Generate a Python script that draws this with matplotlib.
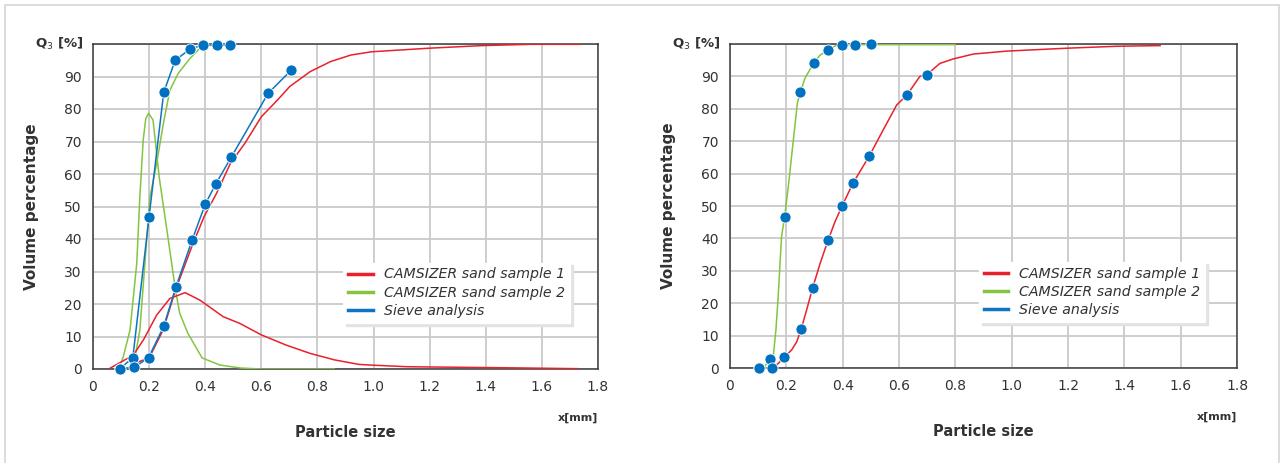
import numpy as np
import matplotlib
matplotlib.use("Agg")
import matplotlib.pyplot as plt
from matplotlib.lines import Line2D
from matplotlib.patches import Rectangle

# ---- data ----
# left panel: before fitting
L_cum1_x = [0.149, 0.2, 0.25, 0.294, 0.352, 0.396, 0.44, 0.49, 0.541, 0.6, 0.658, 0.701, 0.774, 0.847, 0.919, 0.992, 1.196, 1.385, 1.56, 1.735]
L_cum1_y = [1.8, 3.4, 12, 24.3, 37.6, 46.9, 54, 63.3, 69.4, 77.6, 82.8, 86.9, 91.5, 94.6, 96.6, 97.6, 98.7, 99.5, 99.9, 99.9]
L_den1_x = [0.06, 0.144, 0.18, 0.227, 0.274, 0.328, 0.381, 0.464, 0.524, 0.6, 0.687, 0.774, 0.861, 0.949, 0.992, 1.12, 1.45, 1.73]
L_den1_y = [0.2, 4.3, 9, 16.6, 21.7, 23.5, 21.2, 16.1, 14, 10.5, 7.4, 4.8, 2.8, 1.4, 1.2, 0.7, 0.4, 0.1]
L_cum2_x = [0.1, 0.144, 0.167, 0.185, 0.203, 0.227, 0.251, 0.274, 0.304, 0.346, 0.381, 0.40, 0.5]
L_cum2_y = [0, 0.7, 12, 32.5, 53, 63.3, 75.6, 85.8, 91, 95.6, 98.7, 99.7, 99.8]
L_den2_x = [0.095, 0.108, 0.132, 0.156, 0.167, 0.179, 0.188, 0.198, 0.214, 0.236, 0.265, 0.294, 0.309, 0.338, 0.389, 0.453, 0.527, 0.6, 0.86]
L_den2_y = [0.5, 3.8, 12, 32.5, 53, 70.5, 77, 78.7, 76.6, 59, 41.8, 24.3, 17.2, 11, 3.4, 1.2, 0.3, 0, 0]
L_sieve1_x = [0.095, 0.147, 0.198, 0.252, 0.295, 0.353, 0.40, 0.438, 0.493, 0.624, 0.706]
L_sieve1_y = [0, 0.5, 3.5, 13.1, 25.1, 39.6, 50.7, 57, 65.2, 84.8, 91.9]
L_sieve2_x = [0.095, 0.142, 0.2, 0.252, 0.293, 0.347, 0.393, 0.443, 0.49]
L_sieve2_y = [0, 3.5, 46.9, 85.1, 95, 98.5, 99.7, 99.7, 99.7]

# right panel: after fitting
R_cum1_x = [0.15, 0.171, 0.193, 0.219, 0.237, 0.253, 0.272, 0.293, 0.32, 0.348, 0.373, 0.398, 0.437, 0.495, 0.544, 0.592, 0.628, 0.674, 0.70, 0.745, 0.793, 0.864, 0.982, 1.195, 1.373, 1.527]
R_cum1_y = [0, 1.4, 3.3, 5.6, 8.1, 12.1, 17.9, 24.6, 32.3, 39.4, 45.2, 50, 57.1, 65.5, 73.5, 81.2, 84.2, 90, 90.6, 94, 95.4, 96.9, 97.8, 98.7, 99.3, 99.5]
R_cum2_x = [0.118, 0.154, 0.163, 0.171, 0.183, 0.194, 0.207, 0.225, 0.239, 0.25, 0.266, 0.297, 0.32, 0.348, 0.373, 0.40, 0.8]
R_cum2_y = [0, 4, 11.7, 22, 40.5, 46.7, 56, 70.4, 81.7, 85.2, 89.4, 94.1, 96.6, 98, 99.4, 99.8, 99.8]
R_sieve1_x = [0.102, 0.150, 0.193, 0.253, 0.293, 0.348, 0.398, 0.437, 0.495, 0.628, 0.701]
R_sieve1_y = [0, 0, 3.3, 12.1, 24.6, 39.4, 50, 57.1, 65.5, 84.2, 90.5]
R_sieve2_x = [0.102, 0.142, 0.194, 0.25, 0.297, 0.348, 0.398, 0.444, 0.5]
R_sieve2_y = [0, 2.8, 46.7, 85.2, 94.1, 98, 99.7, 99.7, 99.9]

labels = ["CAMSIZER sand sample 1", "CAMSIZER sand sample 2", "Sieve analysis"]
xticks = [0, 0.2, 0.4, 0.6, 0.8, 1.0, 1.2, 1.4, 1.6, 1.8]
xticklabels = ["0", "0.2", "0.4", "0.6", "0.8", "1.0", "1.2", "1.4", "1.6", "1.8"]
yticks = [0, 10, 20, 30, 40, 50, 60, 70, 80, 90, 100]
yticklabels = ["0", "10", "20", "30", "40", "50", "60", "70", "80", "90", ""]

RED = "#e8212b"
GREEN = "#84c441"
BLUE = "#0f75c2"
DOT = "#0071c1"
TXT = "#333333"

plt.rcParams["font.family"] = ["DejaVu Sans"]

fig = plt.figure(figsize=(12.84, 4.63), dpi=100)
fig.patches.append(Rectangle((5/1284, -0.05), 1274/1284, 1.05 - 5/463, transform=fig.transFigure,
                             fill=False, edgecolor="#d9d9d9", linewidth=1.3))

ax1 = fig.add_axes([93/1284, 1 - 369/463, 505/1284, 325/463])
ax2 = fig.add_axes([730/1284, 1 - 368/463, 507/1284, 324/463])


def style_axes(ax, legend_left):
    ax.set_xlim(0, 1.8)
    ax.set_ylim(0, 100)
    ax.set_xticks(xticks)
    ax.set_xticklabels(xticklabels)
    ax.set_yticks(yticks)
    ax.set_yticklabels(yticklabels)
    ax.tick_params(length=0, labelsize=10, colors=TXT, pad=8)
    ax.grid(True, color="#c9c9c9", linewidth=1.3)
    ax.set_axisbelow(True)
    for sp in ax.spines.values():
        sp.set_color("#3a3a3a")
        sp.set_linewidth(1.1)
    ax.set_xlabel("Particle size", fontsize=10.5, fontweight="bold", color=TXT, labelpad=22)
    ax.set_ylabel("Volume percentage", fontsize=11, fontweight="bold", color=TXT, labelpad=18)
    ax.text(-0.018, 1.0, "Q$_3$ [%]", transform=ax.transAxes, ha="right", va="center",
            fontsize=9.5, fontweight="bold", color=TXT)
    ax.text(1.0, -0.15, "x[mm]", transform=ax.transAxes, ha="right", va="center",
            fontsize=8, fontweight="bold", color=TXT)
    handles = [Line2D([], [], color=c, linewidth=2.5) for c in (RED, GREEN, BLUE)]
    leg = ax.legend(handles, labels, loc="lower left", bbox_to_anchor=(legend_left, 0.12),
                    frameon=True, fancybox=False, shadow={"color": "#e2e2e2", "alpha": 1},
                    handlelength=1.7, handletextpad=0.8, borderpad=0.35, labelspacing=0.3,
                    prop={"style": "italic", "size": 10.2})
    leg.get_frame().set_edgecolor("white")
    leg.get_frame().set_facecolor("white")
    for t in leg.get_texts():
        t.set_color(TXT)


# left panel
ax1.plot(L_den2_x, L_den2_y, color=GREEN, linewidth=1.1, zorder=3)
ax1.plot(L_cum2_x, L_cum2_y, color=GREEN, linewidth=1.1, zorder=3)
ax1.plot(L_den1_x, L_den1_y, color=RED, linewidth=1.1, zorder=3)
ax1.plot(L_cum1_x, L_cum1_y, color=RED, linewidth=1.1, zorder=3)
ax1.plot(L_sieve2_x, L_sieve2_y, color=BLUE, linewidth=1.1, marker="o", markersize=8,
         markerfacecolor=DOT, markeredgecolor="white", markeredgewidth=0.6, zorder=4, clip_on=False)
ax1.plot(L_sieve1_x, L_sieve1_y, color=BLUE, linewidth=1.1, marker="o", markersize=8,
         markerfacecolor=DOT, markeredgecolor="white", markeredgewidth=0.6, zorder=4, clip_on=False)
style_axes(ax1, 0.482)

# right panel
ax2.plot(R_cum2_x, R_cum2_y, color=GREEN, linewidth=1.1, zorder=3)
ax2.plot(R_cum1_x, R_cum1_y, color=RED, linewidth=1.1, zorder=3)
ax2.plot(R_sieve2_x, R_sieve2_y, linestyle="none", marker="o", markersize=8,
         markerfacecolor=DOT, markeredgecolor="white", markeredgewidth=0.6, zorder=4, clip_on=False)
ax2.plot(R_sieve1_x, R_sieve1_y, linestyle="none", marker="o", markersize=8,
         markerfacecolor=DOT, markeredgecolor="white", markeredgewidth=0.6, zorder=4, clip_on=False)
style_axes(ax2, 0.477)

fig.savefig("out.png", dpi=100, facecolor="white")
